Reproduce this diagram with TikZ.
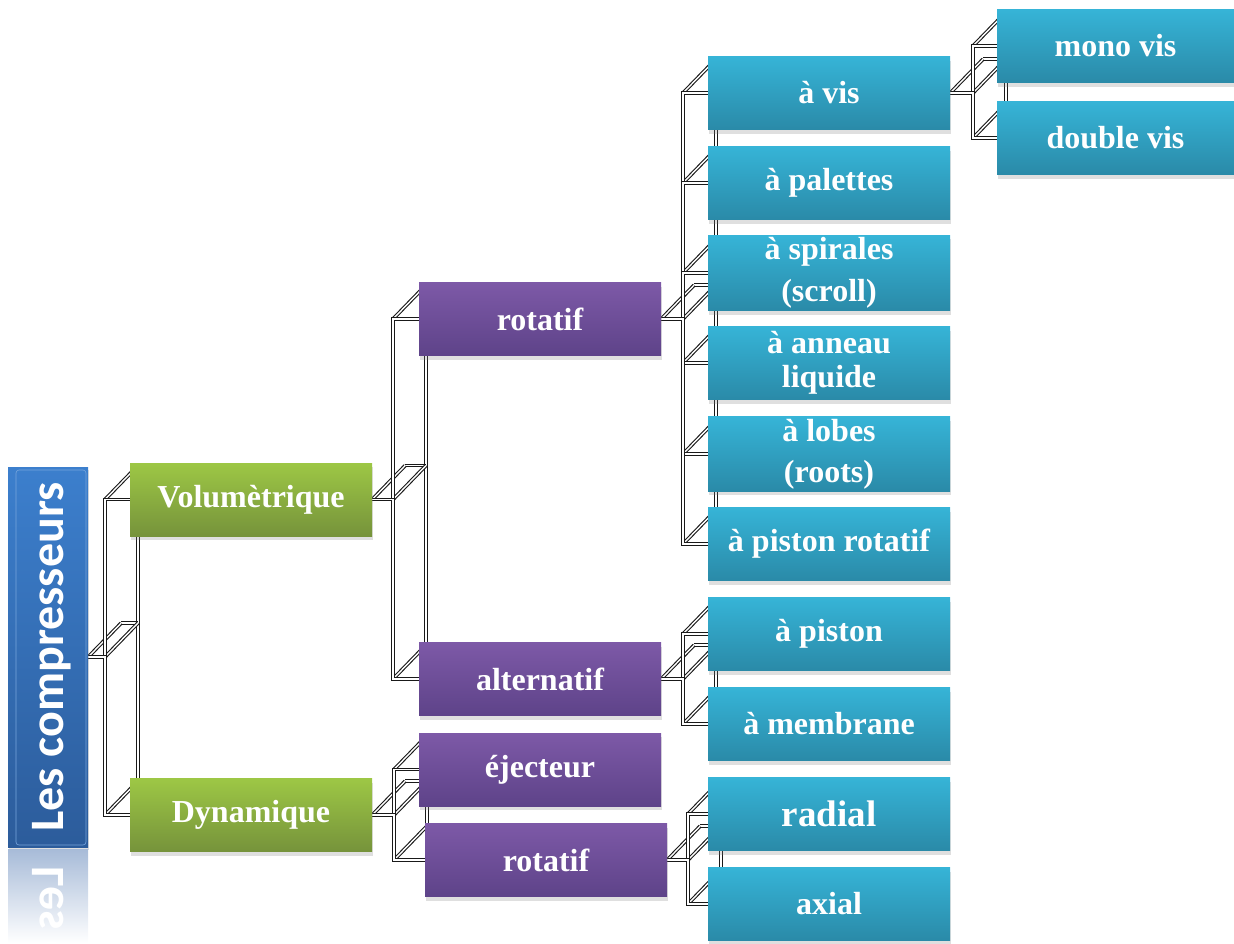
\documentclass[tikz,border=0pt]{standalone}
\usepackage{fontspec}
\setmainfont{Liberation Serif}
\newfontfamily\rootfont{Carlito}
\usetikzlibrary{shadows,backgrounds}

\definecolor{rootTop}{HTML}{3C7FCD}
\definecolor{rootBot}{HTML}{2C5C9B}
\definecolor{reflTop}{HTML}{A7BBD8}
\definecolor{greenTop}{HTML}{9DC745}
\definecolor{greenBot}{HTML}{76933B}
\definecolor{purpleTop}{HTML}{7D59A7}
\definecolor{purpleBot}{HTML}{5E4389}
\definecolor{tealTop}{HTML}{36B4D7}
\definecolor{tealBot}{HTML}{2A8AA8}

\newcommand{\dx}{33}
\newcommand{\dy}{-34}
% 3D elbow from a parent to its children, back frame first, then front frame
\newcommand{\fork}[3]{%
	\coordinate (j) at (#1.east -| #2,0);
	\foreach \kid in {#3} {
		\draw[link] ([shift={(\dx,\dy)}]j) |- ([shift={(\dx,\dy)}]\kid.west);
		\draw[link] (j |- \kid.west) -- ++(\dx,\dy);
	}
	\draw[link] ([shift={(\dx,\dy)}]#1.east) -- ([shift={(\dx,\dy)}]j);
	\draw[link] (#1.east) -- ++(\dx,\dy) (j) -- ++(\dx,\dy);
	\foreach \kid in {#3} {\draw[link] (#1.east) -- (j) |- (\kid.west);}
}

\tikzset{
	box/.style={minimum width=242pt, minimum height=73pt, inner sep=2pt, text=white, align=center,
		font=\fontsize{32}{36}\selectfont\bfseries,
		drop shadow={shadow xshift=1pt, shadow yshift=-4pt, opacity=.25}},
	kind/.style={box, top color=greenTop, bottom color=greenBot},
	family/.style={box, top color=purpleTop, bottom color=purpleBot},
	type/.style={box, top color=tealTop, bottom color=tealBot},
	link/.style={draw=black!90, line width=1.1pt, double=white, double distance=1.4pt},
	title/.style={text=white, font=\fontsize{48}{50}\selectfont\rootfont\bfseries},
}

\begin{document}
\begin{tikzpicture}[x=1pt, y=-1pt]
	\useasboundingbox (0,0) rectangle (1234,943);

	% root and its reflection
	\node[minimum width=80pt, minimum height=380pt, top color=rootTop, bottom color=rootBot,
		drop shadow={shadow xshift=1pt, shadow yshift=-3pt, opacity=.25}] (root) at (48,657) {};
	\draw[rootTop!70!white, rounded corners=3pt, line width=0.6pt] (16,470) rectangle (86,845);
	\node[title] (roottitle) at ([xshift=4pt]root.center) {\rotatebox{90}{Les compresseurs}};
	\coordinate (mirror) at (52,1041);
	\begin{scope}
		\clip (8,849) rectangle (88,943);
		\fill[top color=reflTop, bottom color=white] (8,849) rectangle (88,943);
		\node[title, yscale=-1, transform shape] (rootmirror) at (mirror) {\rotatebox{90}{Les compresseurs}};
	\end{scope}

	% first level
	\node[kind] (vol) at (251,499.5) {Volumètrique};
	\node[kind] (dyn) at (251,815) {Dynamique};

	% second level
	\node[family] (rot) at (540,319) {rotatif};
	\node[family] (alt) at (540,679) {alternatif};
	\node[family] (eje) at (540,769.5) {éjecteur};
	\node[family] (dynrot) at (546,860) {rotatif};

	% third level
	\node[type] (vis) at (829,93) {à vis};
	\node[type] (pal) at (829,183) {à palettes};
	\node[type] (spi) at (829,273) {à spirales\\[6pt](scroll)};
	\node[type] (ann) at (829,363) {à anneau\\[-2pt]liquide};
	\node[type] (lob) at (829,454) {à lobes\\[5pt](roots)};
	\node[type] (pro) at (829,544) {à piston rotatif};
	\node[type] (pis) at (829,634) {à piston};
	\node[type] (mem) at (829,724) {à membrane};
	\node[type, font=\fontsize{37}{40}\selectfont\bfseries] (rad) at (829,814) {radial};
	\node[type] (axi) at (829,904) {axial};

	% screws
	\node[type, minimum width=237pt] (mono) at (1115.5,46) {mono vis};
	\node[type, minimum width=237pt] (dbl) at (1115.5,138) {double vis};

	\begin{scope}[on background layer]
		\fork{root}{105}{vol,dyn}
		\fork{vol}{393}{rot,alt}
		\fork{dyn}{394}{eje,dynrot}
		\fork{rot}{683}{vis,pal,spi,ann,lob,pro}
		\fork{alt}{683}{pis,mem}
		\fork{dynrot}{688}{rad,axi}
		\fork{vis}{973}{mono,dbl}
	\end{scope}
\end{tikzpicture}
\end{document}
